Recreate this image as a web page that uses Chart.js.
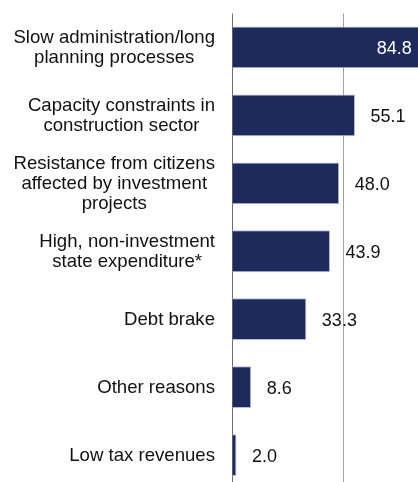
<!DOCTYPE html>
<html>
<head>
<meta charset="utf-8">
<script src="https://cdn.jsdelivr.net/npm/chart.js@4/dist/chart.umd.min.js"></script>
<style>
  html, body { margin: 0; padding: 0; background: #fff; overflow: hidden; }
  #wrap { position: relative; width: 460px; height: 490px; }
</style>
</head>
<body>
<div id="wrap"><canvas id="reasonsChart"></canvas></div>
<script>
// categories (each entry = lines of the label)
const categories = [
    ['Slow administration/long', 'planning processes'],
    ['Capacity constraints in', 'construction sector'],
    ['Resistance from citizens', 'affected by investment', 'projects'],
    ['High, non-investment', 'state expenditure*'],
    ['Debt brake'],
    ['Other reasons'],
    ['Low tax revenues']
];
const values = [84.8, 55.1, 48.0, 43.9, 33.3, 8.6, 2.0];
const xTicks = [0, 50, 100];

const barColor = '#1f2a5c';
const labelFont = '18.6px "Liberation Sans", Arial, sans-serif';
const valueFont = '18px "Liberation Sans", Arial, sans-serif';

// draws the category labels (block right aligned, lines centred) and the values
const labelPlugin = {
    id: 'labelPlugin',
    afterDatasetsDraw(chart) {
        const ctx = chart.ctx;
        const yScale = chart.scales.y;
        const xScale = chart.scales.x;
        const meta = chart.getDatasetMeta(0);
        ctx.save();
        ctx.fillStyle = '#111';
        ctx.textBaseline = 'alphabetic';
        ctx.font = labelFont;
        const right = chart.chartArea.left - 17;
        const lineH = 20;
        categories.forEach(function(lines, i) {
            const cy = yScale.getPixelForValue(i);
            let maxW = 0;
            lines.forEach(l => { maxW = Math.max(maxW, ctx.measureText(l).width); });
            const cx = right - maxW / 2;
            ctx.textAlign = 'center';
            lines.forEach(function(l, j) {
                const y = cy + 6 + (j - (lines.length - 1) / 2) * lineH;
                ctx.fillText(l, cx, y);
            });
        });

        ctx.font = valueFont;
        values.forEach(function(v, i) {
            const bar = meta.data[i];
            const cy = bar.y + 6.5;
            const txt = v.toFixed(1);
            if (v > 80) {
                ctx.fillStyle = '#fff';
                ctx.textAlign = 'right';
                ctx.fillText(txt, xScale.getPixelForValue(v) - 9.5, cy);
            } else {
                ctx.fillStyle = '#111';
                ctx.textAlign = 'left';
                ctx.fillText(txt, xScale.getPixelForValue(v) + 15.5, cy);
            }
        });
        ctx.restore();
    }
};

new Chart(document.getElementById('reasonsChart'), {
    type: 'bar',
    data: {
        labels: categories,
        datasets: [{
            data: values,
            backgroundColor: barColor,
            borderColor: '#b9bed6',
            borderWidth: 1,
            borderSkipped: 'start',
            categoryPercentage: 1,
            barPercentage: 0.615
        }]
    },
    options: {
        indexAxis: 'y',
        responsive: true,
        maintainAspectRatio: false,
        animation: false,
        layout: { padding: { left: 232, right: 4.7, top: 13.5, bottom: 1 } },
        plugins: {
            legend: { display: false },
            tooltip: { enabled: false }
        },
        scales: {
            y: { display: false },
            x: {
                min: 0,
                max: 100,
                afterBuildTicks: function(scale) {
                    scale.ticks = xTicks.map(v => ({ value: v }));
                },
                ticks: { display: false },
                border: { display: false },
                grid: {
                    drawTicks: false,
                    lineWidth: 1,
                    color: function(c) {
                        return c.tick && c.tick.value === 0 ? '#6e6e6e' : '#a0a0a0';
                    }
                }
            }
        }
    },
    plugins: [labelPlugin]
});
</script>
</body>
</html>
